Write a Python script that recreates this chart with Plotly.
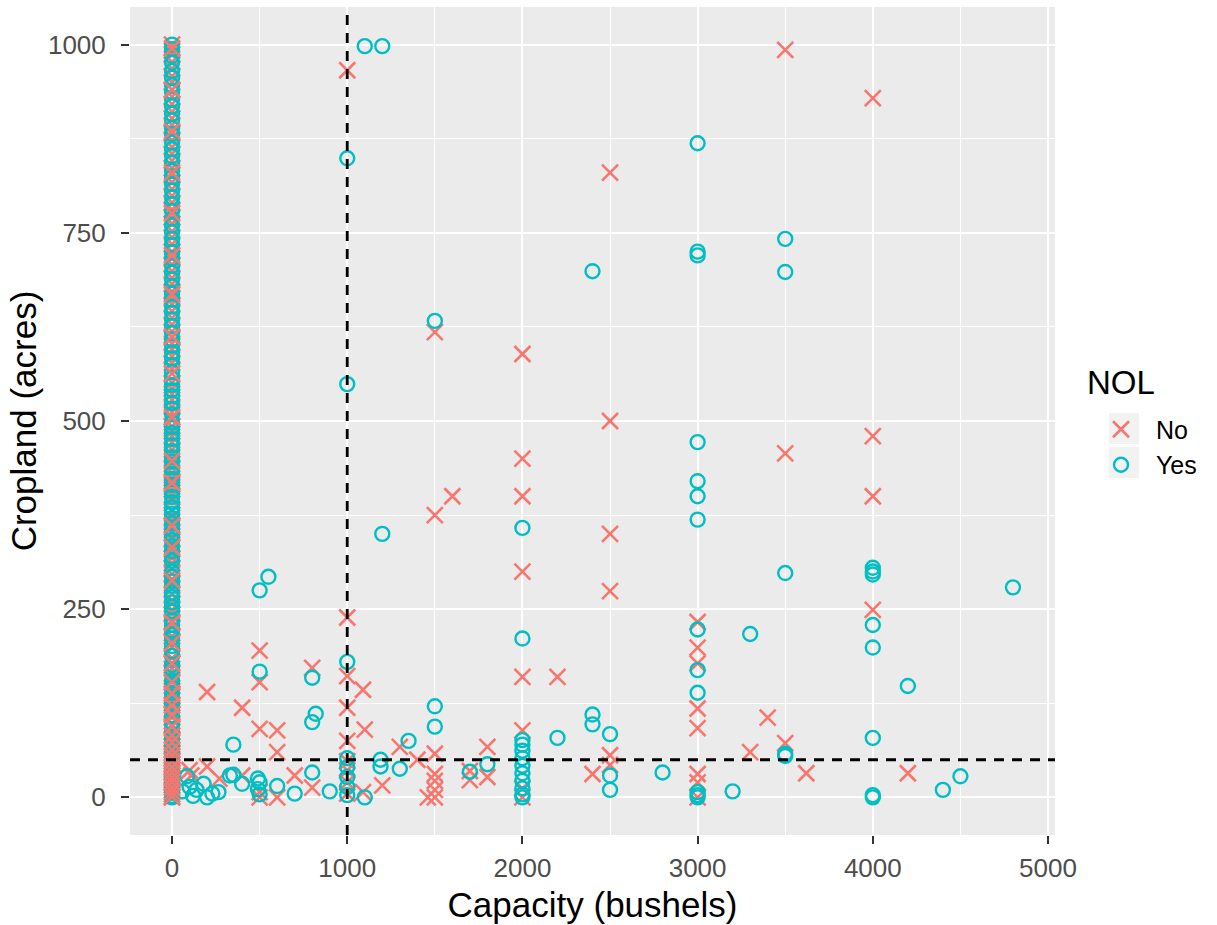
import plotly.graph_objects as go

# ---------------- data ----------------
# Points with capacity 0 (dense column), cropland values in acres
no_zero_y = [0, 4, 9, 16, 23, 29, 37, 44, 51, 59, 68, 77, 87, 96, 106, 117, 129, 142, 156, 171,
             185, 199, 214, 226, 243, 257, 270, 284, 297, 311, 324, 336, 351, 366, 380, 394, 409,
             424, 438, 455, 471, 486, 502, 519, 536, 551, 569, 586, 603, 619, 637, 655, 672, 690,
             708, 725, 744, 762, 781, 799, 817, 836, 855, 873, 893, 911, 931, 950, 968, 987, 1000,
             112, 164, 233, 262, 318, 372, 431, 479, 528, 595, 646, 699, 752, 808, 864, 921, 977,
             134, 178, 207, 249, 277, 304, 343, 359, 401, 416, 462, 493, 512, 543, 577, 611, 628,
             663, 682, 716, 735, 770, 790, 827, 846, 882, 902, 940, 958, 992]
yes_zero_y = [0, 2, 6, 11, 14, 19, 24, 27, 32, 36, 41, 47, 53, 58, 64, 70, 77, 84, 91, 99, 108,
              116, 124, 133, 146, 155, 165, 176, 188, 201, 211, 222, 235, 247, 259, 272, 287, 300,
              314, 327, 342, 356, 371, 385, 399, 415, 430, 446, 460, 476, 492, 509, 524, 541, 557,
              574, 591, 608, 626, 644, 661, 679, 697, 716, 734, 751, 769, 788, 806, 824, 843, 861,
              881, 899, 918, 937, 956, 976, 994, 1000,
              139, 194, 253, 293, 334, 392, 452, 498, 548, 617, 669, 724, 779, 832, 889, 946, 985,
              150, 170, 216, 229, 266, 281, 320, 348, 364, 377, 407, 423, 438, 468, 484, 516, 533,
              565, 583, 600, 635, 652, 688, 706, 742, 760, 797, 815, 852, 870, 908, 927, 965]
no_zero_top_y = [1, 7, 13, 20, 26, 33, 40, 48, 55, 63, 73, 82, 94, 110, 122, 138, 153, 178, 205,
                 232, 288, 332, 361, 418, 447, 505, 563, 612, 668, 720, 776, 830, 885, 940, 995]

# Points with capacity > 0
no_x = [1000, 3500, 4000, 2500, 1500, 2000, 2500, 4000, 3500, 2000, 2000, 4000, 1600, 1500,
        2500, 2000, 2500, 4000, 1000, 3000, 3000, 3000, 3000, 3000, 3000, 3000, 3000, 2000,
        2000, 2000, 2200, 2400, 2500, 2500, 3300, 3400, 3500, 3620, 4200,
        200, 400, 500, 500, 500, 600, 600, 800, 1000, 1000, 1000, 1000, 1000, 1000, 1000,
        1090, 1100, 1200, 1300, 1400, 1500, 1500, 1500, 1500, 1500, 1460, 1700, 1700, 1800,
        1800, 100, 200, 110, 270, 400, 500, 500, 600, 700, 800, 1090, 2000]
no_y = [966, 993, 929, 830, 618, 589, 500, 480, 457, 450, 400, 400, 400, 375,
        350, 300, 274, 249, 239, 233, 199, 178, 118, 92, 31, 20, 0, 160,
        89, 0, 160, 31, 56, 43, 60, 106, 72, 32, 32,
        140, 119, 195, 153, 91, 89, 60, 172, 161, 119, 75, 48, 36, 20, 5,
        143, 90, 16, 67, 50, 58, 31, 22, 10, 0, 0, 35, 23, 67,
        27, 36, 41, 29, 25, 29, 7, 0, 0, 29, 13, 7, 12]

yes_x = [1100, 1200, 1000, 3000, 3500, 3000, 3000, 2400, 3500, 1500, 1000, 3000, 3000, 3000,
         3000, 1200, 2000, 3500, 4000, 4000, 4000, 4800, 500, 550, 3300, 4000, 3000, 2000,
         4000, 1000, 3000, 500, 800, 4200, 3000, 1500, 820, 800, 2400, 2400, 1500, 2500,
         4000, 2200, 1350, 350, 3500, 3500, 1190, 1190, 1300, 1700, 1800, 2800, 2500, 2500,
         3200, 4400, 4500, 4000, 4000, 3000, 3000, 3000,
         2000, 2000, 2000, 2000, 2000, 2000, 2000, 2000, 2000, 2000,
         1000, 1000, 1000, 1000, 1000,
         800, 1100, 500, 500, 600, 700, 900, 350, 400, 490, 490, 330, 85, 100, 180, 200,
         265, 140, 230, 60, 120]
yes_y = [998, 998, 849, 869, 742, 725, 720, 699, 698, 633, 549, 472, 420, 400,
         369, 350, 358, 298, 305, 300, 296, 279, 275, 293, 217, 229, 223, 211,
         199, 180, 169, 167, 159, 148, 139, 121, 111, 100, 110, 97, 94, 84,
         79, 79, 75, 70, 58, 55, 50, 41, 38, 34, 44, 33, 29, 10,
         8, 10, 28, 0, 3, 7, 3, 0,
         76, 70, 62, 52, 42, 32, 22, 12, 4, 0,
         52, 40, 27, 14, 3,
         33, 0, 20, 4, 15, 5, 8, 30, 18, 25, 11, 29, 28, 14, 18, 0,
         7, 10, 5, 8, 2]

# reference thresholds (dashed lines)
capacity_cut = 1000
cropland_cut = 50

x_ticks = [0, 1000, 2000, 3000, 4000, 5000]
y_ticks = [0, 250, 500, 750, 1000]

RED = "#F8766D"
CYAN = "#00BFC4"
FONT = "Liberation Sans, Arial"

# ---------------- figure ----------------
fig = go.Figure()

x_marker = dict(symbol="x-thin", size=16, color=RED, line=dict(color=RED, width=2.6))
o_marker = dict(symbol="circle-open", size=14, color=CYAN, line=dict(color=CYAN, width=2.4))

fig.add_trace(go.Scatter(x=[0] * len(no_zero_y) + no_x, y=no_zero_y + no_y, mode="markers",
                         name="No", legendgroup="No", marker=x_marker))
fig.add_trace(go.Scatter(x=[0] * len(yes_zero_y) + yes_x, y=yes_zero_y + yes_y, mode="markers",
                         name="Yes", legendgroup="Yes", marker=o_marker))
fig.add_trace(go.Scatter(x=[0] * len(no_zero_top_y), y=no_zero_top_y, mode="markers",
                         name="No", legendgroup="No", showlegend=False, marker=x_marker))

fig.add_vline(x=capacity_cut, line=dict(color="black", width=2.8, dash="10px,8px"))
fig.add_hline(y=cropland_cut, line=dict(color="black", width=2.8, dash="10px,8px"))

# grey legend key backgrounds (ggplot style)
for y0, y1 in [(0.4722, 0.5097), (0.4312, 0.4686)]:
    fig.add_shape(type="rect", xref="paper", yref="paper", x0=1.0584, x1=1.0908, y0=y0, y1=y1,
                  fillcolor="#F2F2F2", line=dict(width=0), layer="below")

# legend title (ggplot style, placed above the keys)
fig.add_annotation(text="NOL", xref="paper", yref="paper", x=1.0324, y=0.5471,
                   xanchor="left", yanchor="middle", showarrow=False,
                   font=dict(family=FONT, size=33, color="black"))

axis_common = dict(
    showline=False, zeroline=False, showgrid=True, gridcolor="white", gridwidth=2,
    ticks="outside", ticklen=8, tickwidth=2, tickcolor="#333333",
    tickfont=dict(family=FONT, size=26, color="#4D4D4D"),
)

fig.update_xaxes(
    range=[-240, 5040], tickvals=x_ticks, ticktext=[str(v) for v in x_ticks],
    minor=dict(dtick=500, tick0=0, showgrid=True, gridcolor="white", gridwidth=1, ticks=""),
    title=dict(text="Capacity (bushels)", font=dict(family=FONT, size=35, color="black"),
               standoff=10),
    ticklabelstandoff=2,
    **axis_common,
)
fig.update_yaxes(
    range=[-50, 1050], tickvals=y_ticks, ticktext=[str(v) for v in y_ticks],
    minor=dict(dtick=125, tick0=0, showgrid=True, gridcolor="white", gridwidth=1, ticks=""),
    title=dict(text="Cropland (acres)", font=dict(family=FONT, size=35, color="black"),
               standoff=0),
    ticklabelstandoff=10,
    **axis_common,
)

fig.update_layout(
    width=1217, height=925,
    margin=dict(l=130, r=162, t=7, b=90),
    plot_bgcolor="#EBEBEB", paper_bgcolor="white",
    font=dict(family=FONT, color="black"),
    showlegend=True,
    legend=dict(
        font=dict(size=25, color="black"),
        x=1.0335, xanchor="left", y=0.4686, yanchor="middle",
        bgcolor="rgba(0,0,0,0)", tracegroupgap=0, itemsizing="trace", itemwidth=60,
    ),
)

fig.write_html("out.html", config={"displayModeBar": False},
               post_script="document.body.style.margin='0';")
